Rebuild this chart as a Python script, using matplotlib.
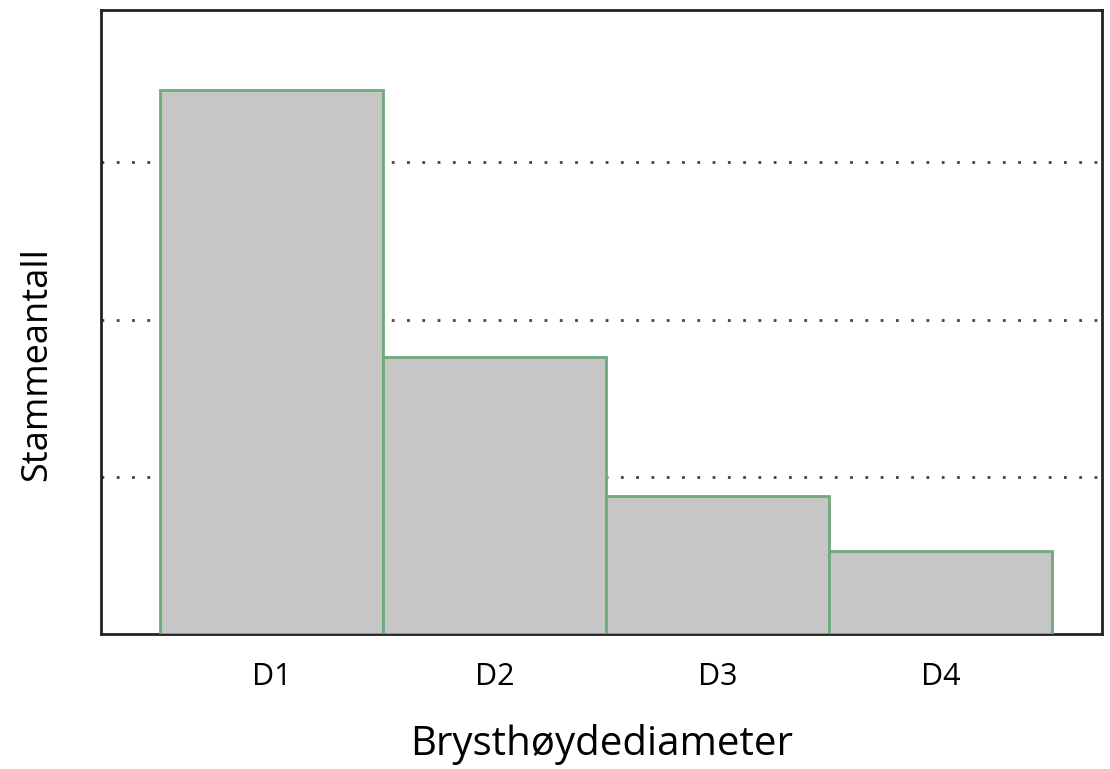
import numpy as np
import matplotlib
matplotlib.use('Agg')
import matplotlib.pyplot as plt

# data (y axis has no numbers, grid step = 1 unit)
categories = ['D1', 'D2', 'D3', 'D4']
stems = [3.46, 1.76, 0.88, 0.53]

plt.rcParams['font.family'] = ['Open Sans', 'DejaVu Sans']

fig = plt.figure(figsize=(11.1, 7.69), dpi=100)
ax = fig.add_axes([0.091, 0.1756, 0.9018, 0.8114])

x = np.arange(len(categories))
ax.bar(x, stems, width=1.0, align='edge', color='#c6c6c6',
       edgecolor='#6fa97c', linewidth=2, zorder=3)

ax.set_xlim(-0.265, 4.224)
ax.set_ylim(0, 3.97)
ax.set_xticks(x + 0.5)
ax.set_xticklabels(categories, fontsize=22)
ax.set_yticks([1, 2, 3])
ax.set_yticklabels([])
ax.tick_params(length=0, pad=20)

ax.grid(axis='y', linestyle=(0, (1, 4.5)), color='#444444', linewidth=2, zorder=0)
ax.set_axisbelow(True)

for s in ax.spines.values():
    s.set_linewidth(2)
    s.set_color('#222222')

ax.set_xlabel('Brysthøydediameter', fontsize=29)
ax.xaxis.set_label_coords(0.5, -0.145)
ax.set_ylabel('Stammeantall', fontsize=26)
ax.yaxis.set_label_coords(-0.046, 0.433)

fig.savefig('out.png', dpi=100)
